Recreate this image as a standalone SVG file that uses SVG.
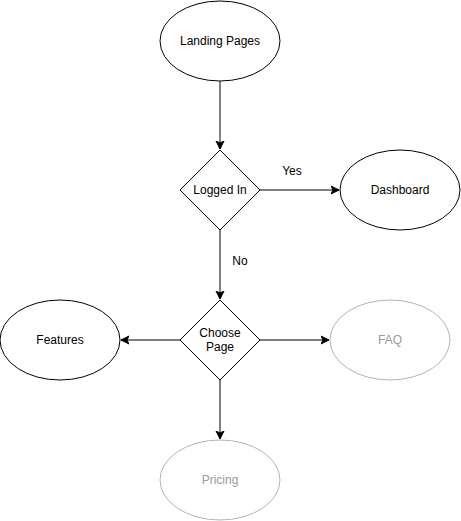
<svg xmlns="http://www.w3.org/2000/svg" width="461" height="521" viewBox="0 0 461 521">
<defs>
<style>
.n{fill:#fff;stroke:#000;stroke-width:1}
.g{fill:#fff;stroke:#b3b3b3;stroke-width:1}
.t{font-family:"Liberation Sans",Arial,sans-serif;font-size:12px;fill:#000;text-anchor:middle;dominant-baseline:central}
.tg{font-family:"Liberation Sans",Arial,sans-serif;font-size:12px;fill:#999;text-anchor:middle;dominant-baseline:central}
.e{fill:none;stroke:#000;stroke-width:1}
</style>
<marker id="a" markerWidth="10" markerHeight="10" refX="8" refY="5" orient="auto" markerUnits="userSpaceOnUse">
<path d="M0,1 L8,5 L0,9 L2,5 Z" fill="#000" stroke="#000" stroke-width="1"/>
</marker>
</defs>
<rect width="461" height="521" fill="#fff"/>
<g id="edges">
<line class="e" x1="220" y1="81" x2="220" y2="149" marker-end="url(#a)"/>
<line class="e" x1="260" y1="190" x2="339" y2="190" marker-end="url(#a)"/>
<line class="e" x1="220" y1="230" x2="220" y2="299" marker-end="url(#a)"/>
<line class="e" x1="180" y1="340" x2="121" y2="340" marker-end="url(#a)"/>
<line class="e" x1="260" y1="340" x2="329" y2="340" marker-end="url(#a)"/>
<line class="e" x1="220" y1="380" x2="220" y2="439" marker-end="url(#a)"/>
<text class="t" x="292" y="171">Yes</text>
<text class="t" x="240" y="261">No</text>
</g>
<g id="landing">
<ellipse class="n" cx="220" cy="41" rx="60" ry="40"/>
<text class="t" x="220" y="41">Landing Pages</text>
</g>
<g id="loggedin">
<polygon class="n" points="220,150 260,190 220,230 180,190"/>
<text class="t" x="220" y="190">Logged In</text>
</g>
<g id="dashboard">
<ellipse class="n" cx="400" cy="190" rx="60" ry="40"/>
<text class="t" x="400" y="190">Dashboard</text>
</g>
<g id="choose">
<polygon class="n" points="220,300 260,340 220,380 180,340"/>
<text class="t" x="220" y="333">Choose</text>
<text class="t" x="220" y="347">Page</text>
</g>
<g id="features">
<ellipse class="n" cx="60" cy="340" rx="60" ry="40"/>
<text class="t" x="60" y="340">Features</text>
</g>
<g id="faq">
<ellipse class="g" cx="390" cy="340" rx="60" ry="40"/>
<text class="tg" x="390" y="340">FAQ</text>
</g>
<g id="pricing">
<ellipse class="g" cx="220" cy="480" rx="60" ry="40"/>
<text class="tg" x="220" y="480">Pricing</text>
</g>
</svg>
